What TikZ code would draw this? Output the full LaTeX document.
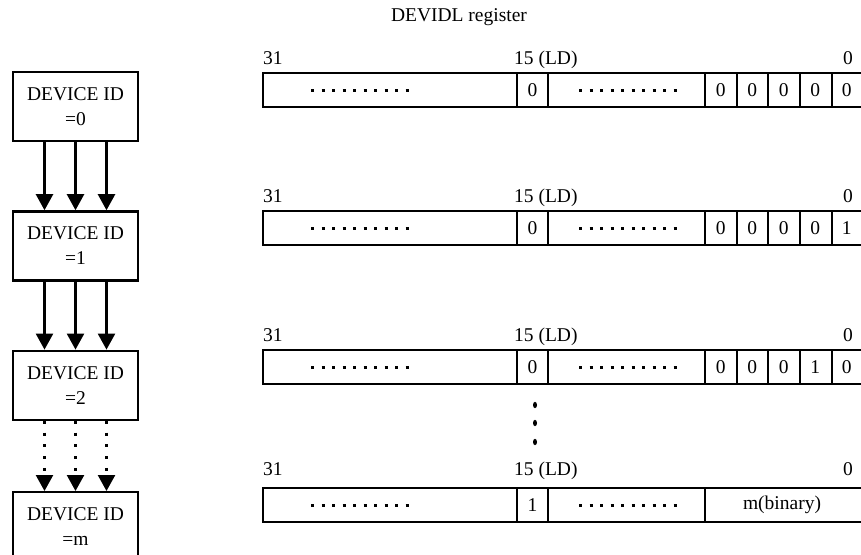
\documentclass[tikz,border=0pt]{standalone}
\usepackage{fontspec}
\setmainfont{Liberation Serif}
\usetikzlibrary{calc, positioning, arrows.meta}

\tikzset{
  devbox/.style={draw, line width=2.4pt, minimum width=125pt, minimum height=69pt,
    inner sep=0pt, align=center, font=\fontsize{19.5}{25}\selectfont},
  idarrow/.style={line width=2.4pt, -{Triangle[width=17pt,length=16pt]}},
  idarrowdot/.style={idarrow, dash pattern=on 3pt off 8.7pt},
  regframe/.style={line width=2.5pt},
  regcell/.style={line width=1.9pt},
  regdots/.style={line width=3pt, dash pattern=on 3pt off 7.5pt},
  lbl/.style={inner sep=0pt, font=\fontsize{19.5}{23}\selectfont}
}

\begin{document}
\begin{tikzpicture}[x=1pt, y=-1pt]
  \useasboundingbox (0,0) rectangle (861,554);

  \node[lbl] (title) at (459,17) {DEVIDL register};

  % device id boxes
  \node[devbox] (dev0) at (75.5,106.5) {DEVICE ID\\=0};
  \node[devbox, below=68pt of dev0] (dev1) {DEVICE ID\\=1};
  \node[devbox, below=68pt of dev1] (dev2) {DEVICE ID\\=2};
  \node[devbox, below=70pt of dev2] (devm) {DEVICE ID\\=m};

  \foreach \dx in {-31,0,31} {
    \draw[idarrow] ([xshift=\dx pt]dev0.south) -- ([xshift=\dx pt]dev1.north);
    \draw[idarrow] ([xshift=\dx pt]dev1.south) -- ([xshift=\dx pt]dev2.north);
    \draw[idarrowdot] ([xshift=\dx pt]dev2.south) -- ([xshift=\dx pt]devm.north);
  }

  % register rows 1..3
  \foreach \top/\bits in {73/{0,0,0,0,0}, 211/{0,0,0,0,1}, 350/{0,0,0,1,0}} {
    \draw[regframe] (263,\top) rectangle (864,\top+34);
    \foreach \xd in {517,548,705,737,768,800,832}
      \draw[regcell] (\xd,\top) -- (\xd,\top+34);
    \draw[regdots] (311,\top+17) -- (409,\top+17);
    \draw[regdots] (579,\top+17) -- (677,\top+17);
    \node[lbl] at (532.5,\top+17) {0};
    \foreach \b [count=\i] in \bits
      \node[lbl] at (705+31.5*\i-15.75,\top+17) {\b};
    \node[lbl, anchor=base west] at (263,\top-9) {31};
    \node[lbl, anchor=base west] at (514,\top-9) {15 (LD)};
    \node[lbl, anchor=base east] at (853,\top-9) {0};
  }

  % vertical dots
  \foreach \y in {405,423,442}
    \fill (535,\y) ellipse (2pt and 3.2pt);

  % register row m
  \draw[regframe] (263,488) rectangle (864,522);
  \foreach \xd in {517,548,705}
    \draw[regcell] (\xd,488) -- (\xd,522);
  \draw[regdots] (311,505) -- (409,505);
  \draw[regdots] (579,505) -- (677,505);
  \node[lbl] at (532.5,505) {1};
  \node[lbl] at (782,505) {m(binary)};
  \node[lbl, anchor=base west] at (263,475) {31};
  \node[lbl, anchor=base west] at (514,475) {15 (LD)};
  \node[lbl, anchor=base east] at (853,475) {0};
\end{tikzpicture}
\end{document}
